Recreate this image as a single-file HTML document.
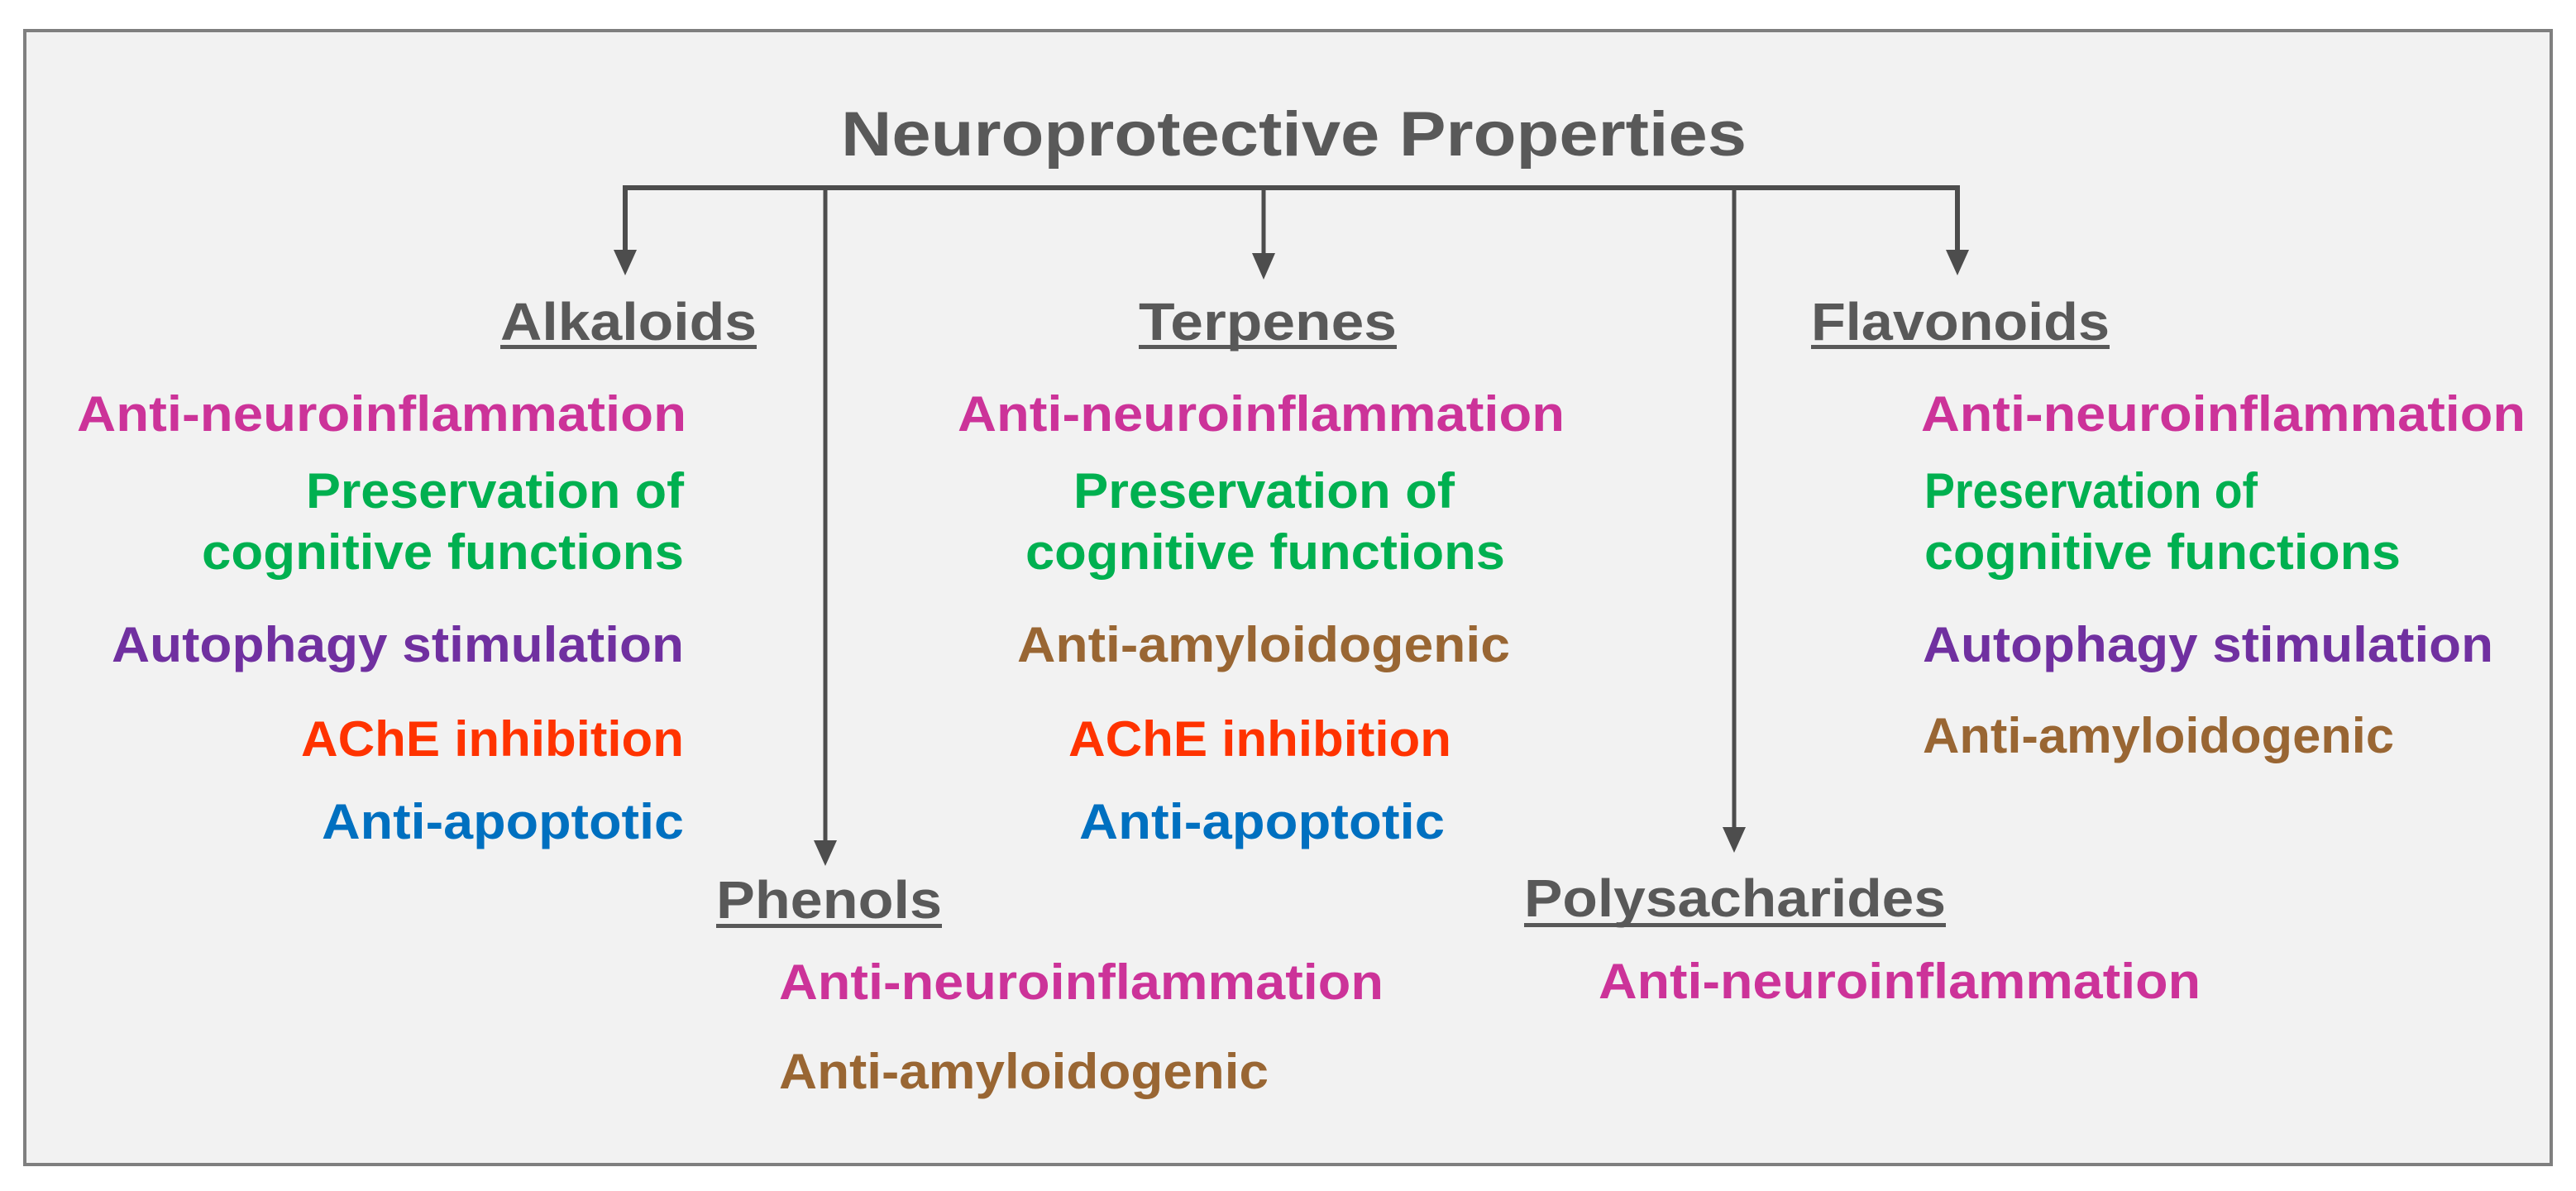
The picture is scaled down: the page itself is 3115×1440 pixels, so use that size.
<!DOCTYPE html>
<html><head><meta charset="utf-8"><style>
html,body{margin:0;padding:0;background:#fff;}
svg{display:block;}
text{font-family:"Liberation Sans",Arial,sans-serif;font-weight:bold;}
</style></head><body>
<svg width="3115" height="1440" viewBox="0 0 3115 1440" xmlns="http://www.w3.org/2000/svg">
<rect x="30" y="37" width="3055" height="1371" fill="#f2f2f2" stroke="#7f7f7f" stroke-width="4"/>
<text x="1017" y="188" font-size="76" fill="#595959" textLength="1095" lengthAdjust="spacingAndGlyphs">Neuroprotective Properties</text>
<g stroke="#4d4d4d" fill="none">
<path d="M756 304 V227 H2367 V304" stroke-width="6"/>
<line x1="998" y1="227" x2="998" y2="1020" stroke-width="5"/>
<line x1="1528" y1="227" x2="1528" y2="308" stroke-width="5"/>
<line x1="2097" y1="227" x2="2097" y2="1003" stroke-width="5"/>
</g>
<g fill="#4d4d4d">
<polygon points="742,302 770,302 756,333"/>
<polygon points="984,1016 1012,1016 998,1047"/>
<polygon points="1514,306 1542,306 1528,338"/>
<polygon points="2083,1000 2111,1000 2097,1031"/>
<polygon points="2353,302 2381,302 2367,333"/>
</g>
<g font-size="64" fill="#595959">
<text x="605" y="411" textLength="310" lengthAdjust="spacingAndGlyphs">Alkaloids</text>
<text x="1377" y="411" textLength="312" lengthAdjust="spacingAndGlyphs">Terpenes</text>
<text x="2190" y="411" textLength="361" lengthAdjust="spacingAndGlyphs">Flavonoids</text>
<text x="866" y="1110" textLength="273" lengthAdjust="spacingAndGlyphs">Phenols</text>
<text x="1843" y="1108" textLength="510" lengthAdjust="spacingAndGlyphs">Polysacharides</text>
</g>
<g fill="#595959">
<rect x="605" y="417" width="310" height="5"/>
<rect x="1377" y="417" width="312" height="5"/>
<rect x="2190" y="417" width="361" height="5"/>
<rect x="866" y="1117" width="273" height="5"/>
<rect x="1843" y="1116" width="510" height="5"/>
</g>
<g font-size="60">
<!-- Alkaloids -->
<text x="93" y="521" fill="#cc3399" textLength="737" lengthAdjust="spacingAndGlyphs">Anti-neuroinflammation</text>
<text x="370" y="614" fill="#00b050" textLength="457" lengthAdjust="spacingAndGlyphs">Preservation of</text>
<text x="244" y="688" fill="#00b050" textLength="583" lengthAdjust="spacingAndGlyphs">cognitive functions</text>
<text x="135" y="800" fill="#7030a0" textLength="692" lengthAdjust="spacingAndGlyphs">Autophagy stimulation</text>
<text x="364" y="914" fill="#ff3300" textLength="463" lengthAdjust="spacingAndGlyphs">AChE inhibition</text>
<text x="389" y="1014" fill="#0070c0" textLength="438" lengthAdjust="spacingAndGlyphs">Anti-apoptotic</text>
<!-- Terpenes -->
<text x="1158" y="521" fill="#cc3399" textLength="734" lengthAdjust="spacingAndGlyphs">Anti-neuroinflammation</text>
<text x="1298" y="614" fill="#00b050" textLength="461" lengthAdjust="spacingAndGlyphs">Preservation of</text>
<text x="1240" y="688" fill="#00b050" textLength="580" lengthAdjust="spacingAndGlyphs">cognitive functions</text>
<text x="1230" y="800" fill="#996633" textLength="596" lengthAdjust="spacingAndGlyphs">Anti-amyloidogenic</text>
<text x="1292" y="914" fill="#ff3300" textLength="463" lengthAdjust="spacingAndGlyphs">AChE inhibition</text>
<text x="1305" y="1014" fill="#0070c0" textLength="442" lengthAdjust="spacingAndGlyphs">Anti-apoptotic</text>
<!-- Flavonoids -->
<text x="2323" y="521" fill="#cc3399" textLength="731" lengthAdjust="spacingAndGlyphs">Anti-neuroinflammation</text>
<text x="2327" y="614" fill="#00b050" textLength="403" lengthAdjust="spacingAndGlyphs">Preservation of</text>
<text x="2327" y="688" fill="#00b050" textLength="576" lengthAdjust="spacingAndGlyphs">cognitive functions</text>
<text x="2325" y="800" fill="#7030a0" textLength="690" lengthAdjust="spacingAndGlyphs">Autophagy stimulation</text>
<text x="2325" y="910" fill="#996633" textLength="570" lengthAdjust="spacingAndGlyphs">Anti-amyloidogenic</text>
<!-- Phenols -->
<text x="942" y="1208" fill="#cc3399" textLength="731" lengthAdjust="spacingAndGlyphs">Anti-neuroinflammation</text>
<text x="942" y="1316" fill="#996633" textLength="592" lengthAdjust="spacingAndGlyphs">Anti-amyloidogenic</text>
<!-- Polysaccharides -->
<text x="1933" y="1207" fill="#cc3399" textLength="728" lengthAdjust="spacingAndGlyphs">Anti-neuroinflammation</text>
</g>
</svg>
</body></html>
